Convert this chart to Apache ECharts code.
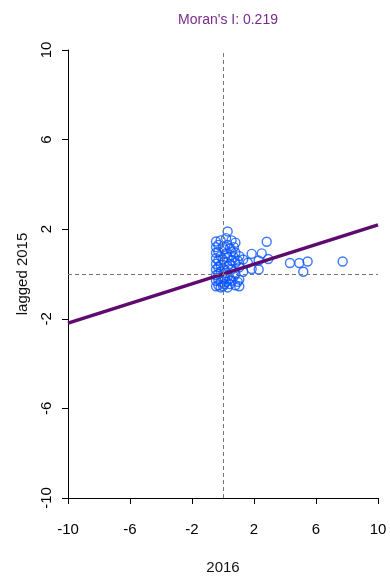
<!DOCTYPE html>
<html>
<head>
<meta charset="utf-8">
<script src="https://cdn.jsdelivr.net/npm/echarts@6/dist/echarts.min.js"></script>
<style>html,body{margin:0;padding:0;background:#fff}#c{width:390px;height:580px}</style>
</head>
<body>
<div id="c"></div>
<script>
var titleText = "Moran's I: 0.219";
var xName = "2016";
var yName = "lagged 2015";
var tickValues = [-10, -6, -2, 2, 6, 10];
var moranI = 0.219;
var lineIntercept = 0;
var xValues = [
  -0.45,-0.45,-0.45,-0.45,-0.45,-0.45,-0.45,-0.45,-0.45,
  -0.3,-0.3,-0.3,-0.3,-0.3,-0.3,-0.3,
  -0.15,-0.15,-0.15,-0.15,-0.15,-0.15,
  0.0,0.0,0.0,0.0,
  0.1,0.1,0.1,0.1,0.1,
  0.2,0.2,0.2,0.2,
  0.3,0.3,0.3,0.3,0.3,0.3,
  0.45,0.45,0.45,0.45,
  0.55,0.55,0.55,0.55,0.55,
  0.7,0.7,0.7,
  0.8,0.8,0.8,0.8,0.8,
  0.95,0.95,
  1.05,1.05,1.05,1.05,
  1.3,1.3,1.6,1.85,1.85,2.3,2.3,2.5,2.82,2.92,4.32,4.92,5.18,5.46,7.72
];
var yValues = [
  1.45,1.2,0.95,0.7,0.45,0.2,-0.05,-0.3,-0.55,
  1.3,1.0,0.6,0.3,0.0,-0.25,-0.5,
  1.5,0.8,0.4,0.1,-0.35,-0.6,
  1.2,0.65,-0.2,-0.55,
  1.1,0.55,0.2,-0.15,-0.45,
  1.6,0.9,0.05,-0.35,
  1.9,1.3,0.75,0.35,-0.1,-0.6,
  1.15,0.45,-0.2,-0.45,
  1.5,1.0,0.6,0.2,-0.3,
  1.2,0.75,-0.1,
  1.4,0.95,0.5,0.0,-0.5,
  0.6,-0.35,
  0.8,0.3,-0.25,-0.55,
  0.65,0.1,0.5,0.9,0.22,0.6,0.2,0.92,1.44,0.67,0.49,0.49,0.1,0.56,0.56
];
var points = xValues.map(function (x, i) { return [x, yValues[i]]; });
var lineX = [-10, 10];
var lineData = lineX.map(function (x) { return [x, lineIntercept + moranI * x]; });

var font = 'Liberation Sans, Arial, sans-serif';
var chart = echarts.init(document.getElementById('c'), null, {renderer: 'canvas'});
chart.setOption({
  animation: false,
  backgroundColor: '#fff',
  title: {
    text: titleText, left: 223, top: 8, textAlign: 'center',
    textStyle: {color: '#7a2a8c', fontFamily: font, fontSize: 14, fontWeight: 'normal'}
  },
  grid: {left: 68, right: 12, top: 50, bottom: 79},
  xAxis: {
    type: 'value', min: -10, max: 10, interval: 4,
    name: xName, nameLocation: 'middle', nameGap: 62,
    nameTextStyle: {color: '#111', fontFamily: font, fontSize: 15},
    axisLine: {onZero: false, lineStyle: {color: '#000', width: 1}},
    axisTick: {show: true, length: 6, lineStyle: {color: '#000'}},
    axisLabel: {color: '#000', fontFamily: font, fontSize: 15, margin: 24,
      customValues: tickValues},
    splitLine: {show: false}
  },
  yAxis: {
    type: 'value', min: -10, max: 10, interval: 4,
    name: yName, nameLocation: 'middle', nameGap: 38,
    nameTextStyle: {color: '#111', fontFamily: font, fontSize: 15},
    axisLine: {onZero: false, lineStyle: {color: '#000', width: 1}},
    axisTick: {show: true, length: 6, lineStyle: {color: '#000'}},
    axisLabel: {color: '#000', fontFamily: font, fontSize: 15, rotate: 90, margin: 14},
    splitLine: {show: false}
  },
  series: [
    {
      type: 'scatter', data: points, symbol: 'circle', symbolSize: 9,
      itemStyle: {color: 'rgba(0,0,0,0)', borderColor: '#0a55ff', borderWidth: 1.4},
      markLine: {
        silent: true, symbol: 'none', label: {show: false},
        lineStyle: {color: '#777', type: [4, 3], width: 1},
        data: [{xAxis: 0}, {yAxis: 0}]
      },
      z: 3
    },
    {
      type: 'line', data: lineData, symbol: 'none',
      lineStyle: {color: '#5e0a6e', width: 3.5}, z: 4
    }
  ]
});
</script>
</body>
</html>
